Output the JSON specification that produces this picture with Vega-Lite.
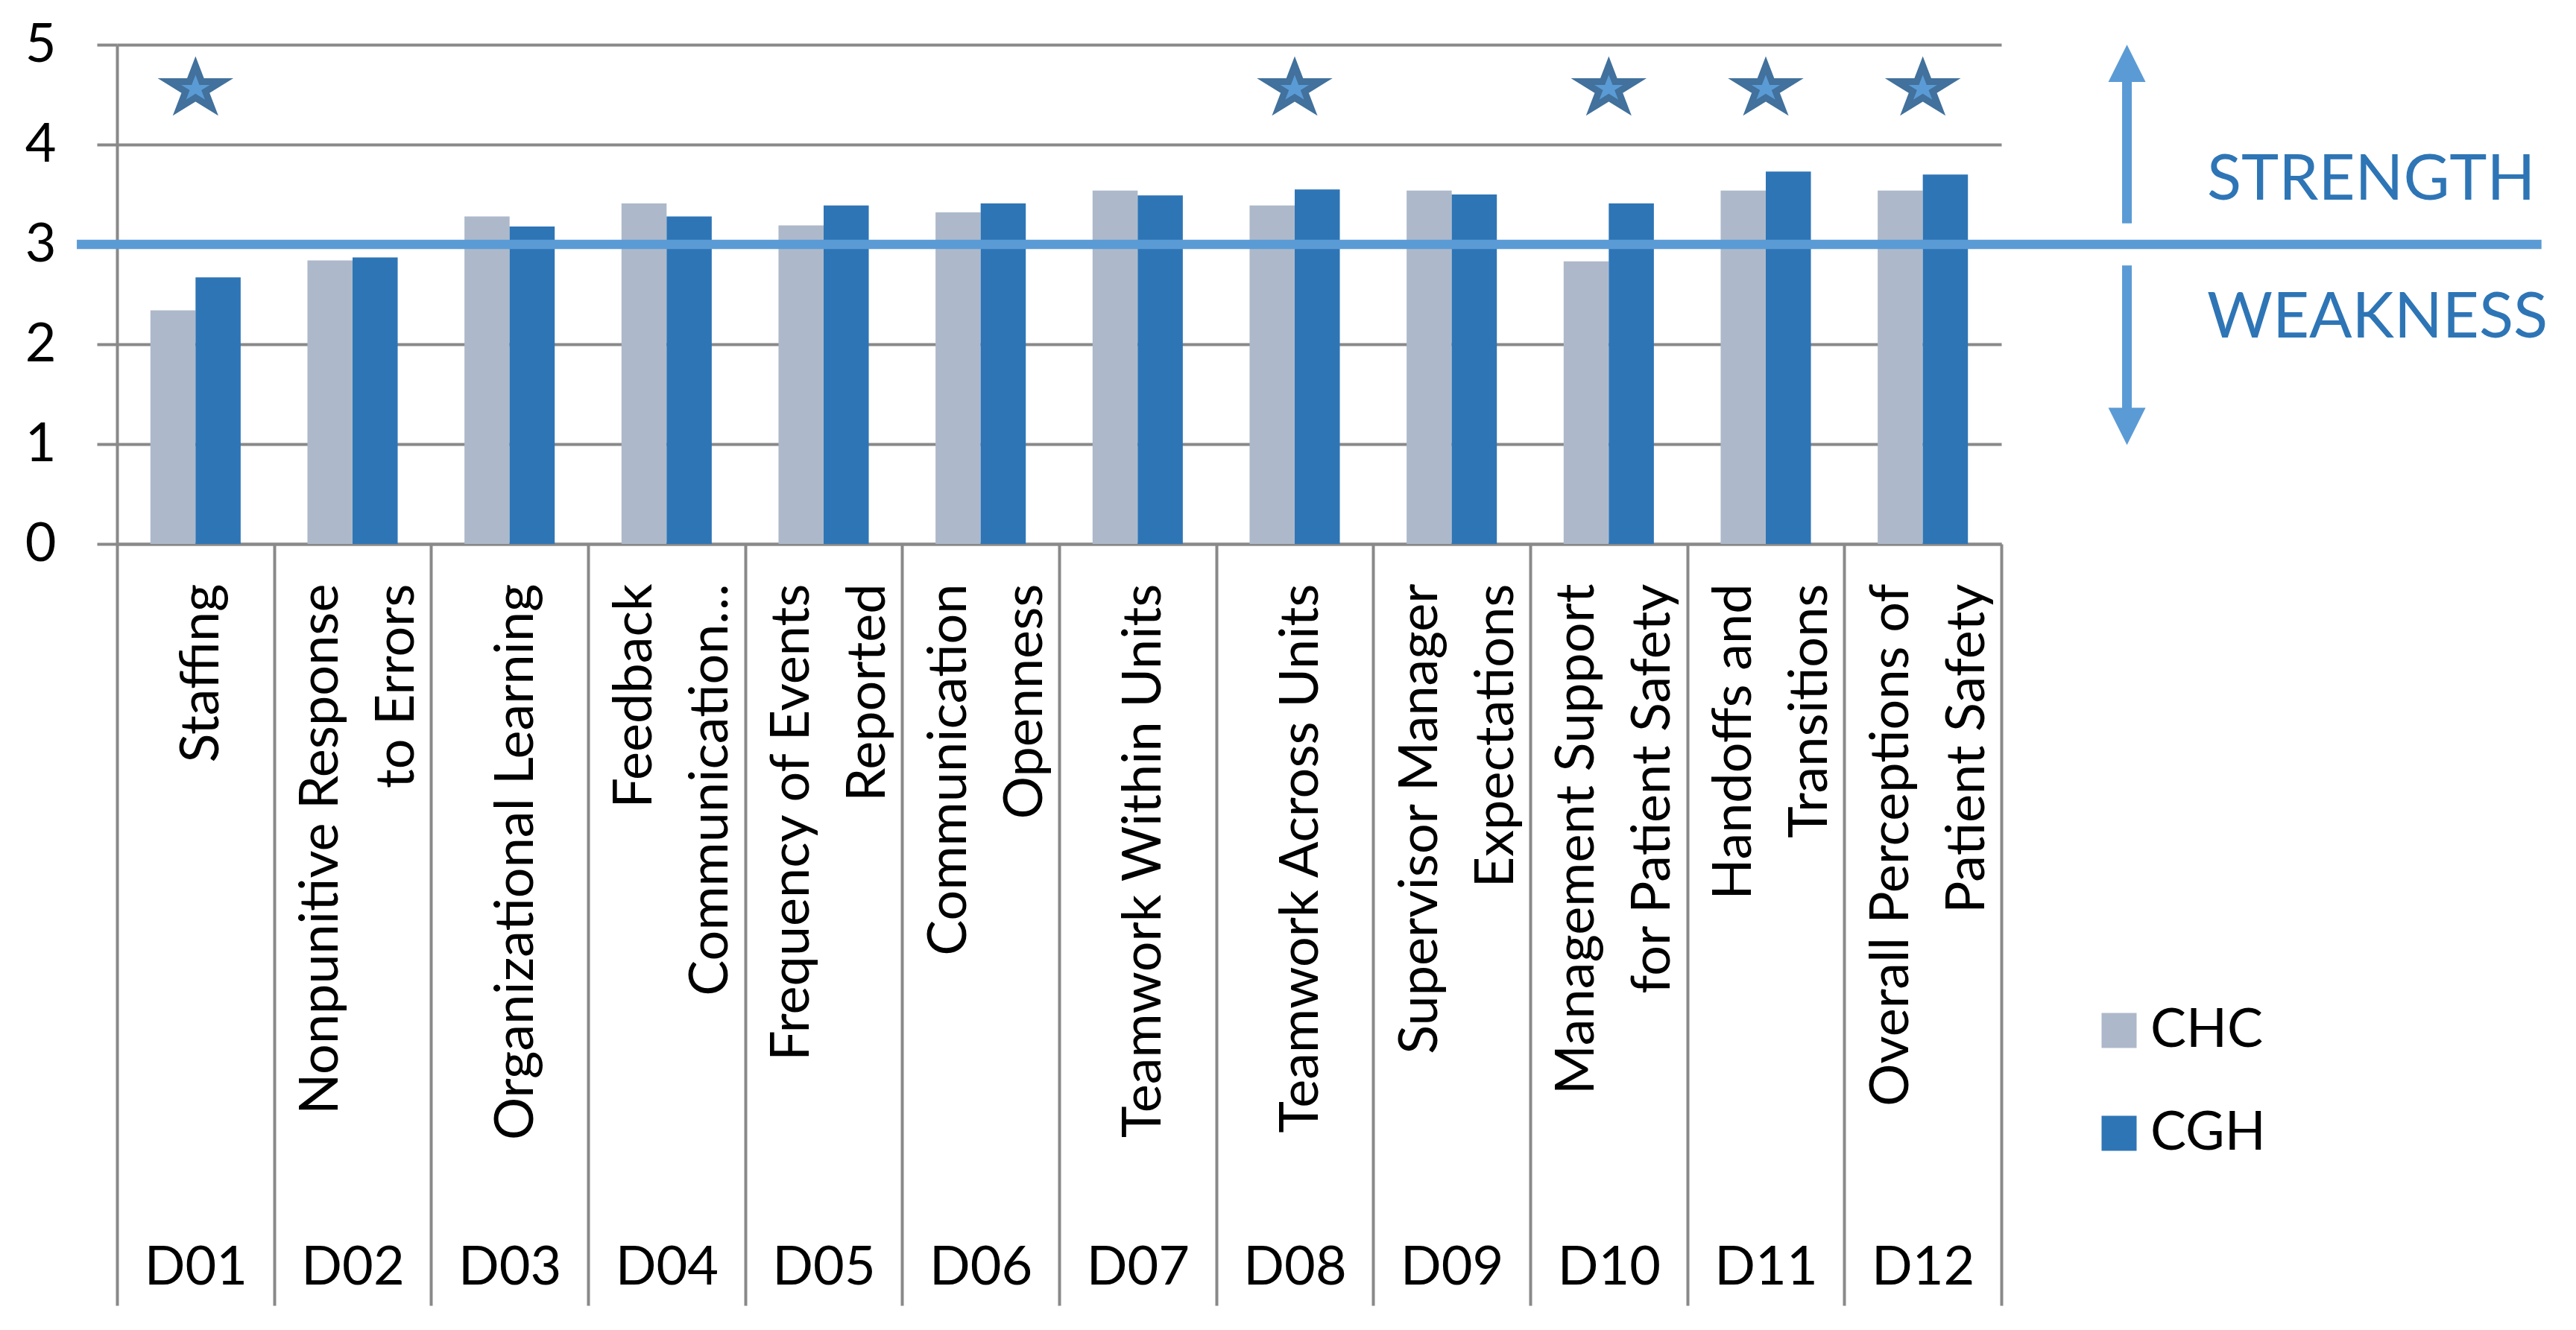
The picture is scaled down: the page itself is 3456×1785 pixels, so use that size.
{
  "$schema": "https://vega.github.io/schema/vega-lite/v6.json",
  "width": 2528,
  "height": 670,
  "autosize": {"type": "none"},
  "padding": {"left": 157, "top": 60, "right": 771, "bottom": 1055},
  "background": "white",
  "config": {
    "view": {"stroke": null},
    "font": "Lato",
    "text": {"font": "Lato"}
  },
  "datasets": {
    "scores": [
      {"category": "D01|Staffing", "site": "CHC", "score": 2.34},
      {"category": "D01|Staffing", "site": "CGH", "score": 2.67},
      {"category": "D02|Nonpunitive Response|to Errors", "site": "CHC", "score": 2.84},
      {"category": "D02|Nonpunitive Response|to Errors", "site": "CGH", "score": 2.87},
      {"category": "D03|Organizational Learning", "site": "CHC", "score": 3.28},
      {"category": "D03|Organizational Learning", "site": "CGH", "score": 3.18},
      {"category": "D04|Feedback|Communication…", "site": "CHC", "score": 3.41},
      {"category": "D04|Feedback|Communication…", "site": "CGH", "score": 3.28},
      {"category": "D05|Frequency of Events|Reported", "site": "CHC", "score": 3.19},
      {"category": "D05|Frequency of Events|Reported", "site": "CGH", "score": 3.39},
      {"category": "D06|Communication|Openness", "site": "CHC", "score": 3.32},
      {"category": "D06|Communication|Openness", "site": "CGH", "score": 3.41},
      {"category": "D07|Teamwork Within Units", "site": "CHC", "score": 3.54},
      {"category": "D07|Teamwork Within Units", "site": "CGH", "score": 3.49},
      {"category": "D08|Teamwork Across Units", "site": "CHC", "score": 3.39},
      {"category": "D08|Teamwork Across Units", "site": "CGH", "score": 3.55},
      {"category": "D09|Supervisor Manager|Expectations", "site": "CHC", "score": 3.54},
      {"category": "D09|Supervisor Manager|Expectations", "site": "CGH", "score": 3.5},
      {"category": "D10|Management Support|for Patient Safety", "site": "CHC", "score": 2.83},
      {"category": "D10|Management Support|for Patient Safety", "site": "CGH", "score": 3.41},
      {"category": "D11|Handoffs and|Transitions", "site": "CHC", "score": 3.54},
      {"category": "D11|Handoffs and|Transitions", "site": "CGH", "score": 3.73},
      {"category": "D12|Overall Perceptions of|Patient Safety", "site": "CHC", "score": 3.54},
      {"category": "D12|Overall Perceptions of|Patient Safety", "site": "CGH", "score": 3.7}
    ],
    "stars": [
      {"category": "D01|Staffing", "score": 4.58},
      {"category": "D08|Teamwork Across Units", "score": 4.58},
      {"category": "D10|Management Support|for Patient Safety", "score": 4.58},
      {"category": "D11|Handoffs and|Transitions", "score": 4.58},
      {"category": "D12|Overall Perceptions of|Patient Safety", "score": 4.58}
    ]
  },
  "layer": [
    {
      "layer": [
        {
          "data": {"name": "scores"},
          "mark": {"type": "bar"},
          "encoding": {
            "x": {
              "field": "category",
              "type": "nominal",
              "scale": {"paddingInner": 0, "paddingOuter": 0},
              "axis": {
                "orient": "bottom",
                "title": null,
                "labelExpr": "isValid(datum.value) ? split(datum.value, '|')[0] : ''",
                "labelAngle": 0,
                "labelAlign": "center",
                "labelBaseline": "alphabetic",
                "labelFont": "Lato",
                "labelFontSize": 72,
                "labelColor": "black",
                "labelPadding": -29,
                "labelOverlap": false,
                "ticks": true,
                "tickBand": "extent",
                "tickSize": 1022,
                "tickWidth": 4,
                "tickColor": "#898989",
                "domain": true,
                "domainColor": "#898989",
                "domainWidth": 4,
                "grid": false
              }
            },
            "xOffset": {
              "field": "site",
              "type": "nominal",
              "scale": {"domain": ["CHC", "CGH"], "paddingInner": 0, "paddingOuter": 0.74}
            },
            "y": {
              "field": "score",
              "type": "quantitative",
              "scale": {"domain": [0, 5], "nice": false},
              "axis": {
                "title": null,
                "values": [0, 1, 2, 3, 4, 5],
                "format": "d",
                "grid": true,
                "gridColor": "#898989",
                "gridWidth": 4,
                "ticks": true,
                "tickSize": 27,
                "tickWidth": 4,
                "tickColor": "#898989",
                "domain": true,
                "domainColor": "#898989",
                "domainWidth": 4,
                "labelFont": "Lato",
                "labelFontSize": 72,
                "labelColor": "black",
                "labelPadding": 55
              }
            },
            "color": {
              "field": "site",
              "type": "nominal",
              "scale": {"domain": ["CHC", "CGH"], "range": ["#ADB9CA", "#2E75B6"]},
              "legend": {
                "orient": "none",
                "legendX": 2650,
                "legendY": 1287,
                "title": null,
                "direction": "vertical",
                "symbolType": "square",
                "symbolSize": 2209,
                "symbolStrokeWidth": 0,
                "symbolOpacity": 1,
                "labelFont": "Lato",
                "labelFontSize": 72,
                "labelColor": "black",
                "labelOffset": 6,
                "rowPadding": 66,
                "padding": 0
              }
            }
          }
        },
        {
          "data": {"name": "stars"},
          "mark": {
            "type": "point",
            "shape": "M0,-0.77L0.2245,-0.183L0.951,-0.183L0.363,0.18L0.588,0.768L0,0.405L-0.588,0.768L-0.363,0.18L-0.951,-0.183L-0.2245,-0.183Z",
            "filled": true,
            "fill": "#5B9BD5",
            "stroke": "#41719C",
            "strokeWidth": 9,
            "strokeJoin": "miter",
            "size": 5400,
            "opacity": 1
          },
          "encoding": {
            "x": {
              "field": "category",
              "type": "nominal",
              "axis": {
                "orient": "bottom",
                "title": null,
                "labelExpr": "isValid(datum.value) ? slice(split(datum.value, '|'), 1) : ''",
                "labelAngle": 270,
                "labelAlign": "right",
                "labelBaseline": "middle",
                "labelFont": "Lato",
                "labelFontSize": 72,
                "labelLineHeight": 102,
                "labelColor": "black",
                "labelPadding": 53,
                "labelOffset": {
                  "condition": {"test": "isValid(datum.value) && length(split(datum.value, '|')) > 2", "value": -42},
                  "value": 9
                },
                "labelLimit": 3000,
                "labelOverlap": false,
                "ticks": false,
                "domain": false,
                "grid": false
              }
            },
            "y": {"field": "score", "type": "quantitative"}
          }
        }
      ],
      "resolve": {"axis": {"x": "independent"}}
    },
    {
      "data": {"values": [{}]},
      "layer": [
        {
          "mark": {"type": "rule", "color": "#5B9BD5", "strokeWidth": 12.5},
          "encoding": {
            "x": {
              "datum": -0.256,
              "type": "quantitative",
              "scale": {"domain": [0, 12], "nice": false, "zero": false},
              "axis": null
            },
            "x2": {"datum": 15.44},
            "y": {"datum": 3, "type": "quantitative"}
          }
        },
        {
          "mark": {"type": "rule", "color": "#5B9BD5", "strokeWidth": 13},
          "encoding": {
            "x": {"datum": 12.8, "type": "quantitative"},
            "y": {"datum": 3.21, "type": "quantitative"},
            "y2": {"datum": 4.7}
          }
        },
        {
          "mark": {"type": "point", "shape": "M0,-1L1,1L-1,1Z", "filled": true, "color": "#5B9BD5", "size": 2500, "opacity": 1},
          "encoding": {
            "x": {"datum": 12.8, "type": "quantitative"},
            "y": {"datum": 4.813, "type": "quantitative"}
          }
        },
        {
          "mark": {"type": "rule", "color": "#5B9BD5", "strokeWidth": 13},
          "encoding": {
            "x": {"datum": 12.8, "type": "quantitative"},
            "y": {"datum": 2.79, "type": "quantitative"},
            "y2": {"datum": 1.3}
          }
        },
        {
          "mark": {"type": "point", "shape": "M0,1L1,-1L-1,-1Z", "filled": true, "color": "#5B9BD5", "size": 2500, "opacity": 1},
          "encoding": {
            "x": {"datum": 12.8, "type": "quantitative"},
            "y": {"datum": 1.177, "type": "quantitative"}
          }
        },
        {
          "mark": {"type": "text", "text": "STRENGTH", "align": "left", "baseline": "middle", "font": "Lato", "fontSize": 85, "color": "#2E75B6"},
          "encoding": {
            "x": {"datum": 13.31, "type": "quantitative"},
            "y": {"datum": 3.64, "type": "quantitative"}
          }
        },
        {
          "mark": {"type": "text", "text": "WEAKNESS", "align": "left", "baseline": "middle", "font": "Lato", "fontSize": 85, "color": "#2E75B6"},
          "encoding": {
            "x": {"datum": 13.31, "type": "quantitative"},
            "y": {"datum": 2.26, "type": "quantitative"}
          }
        }
      ]
    }
  ],
  "resolve": {"scale": {"x": "independent"}}
}
